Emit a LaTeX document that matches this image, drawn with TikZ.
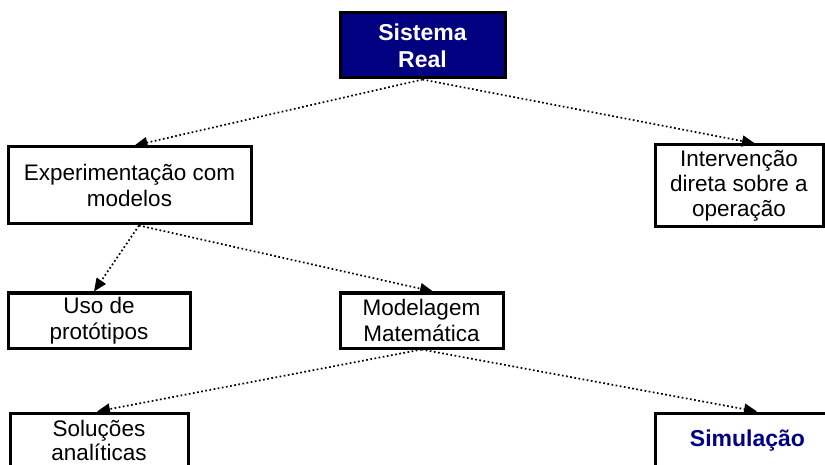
\documentclass[tikz,border=0pt]{standalone}
\usepackage{fontspec}
\setmainfont{Liberation Sans}
\usetikzlibrary{arrows.meta}
\definecolor{navyblue}{RGB}{0,0,128}
\tikzset{
  box/.style={draw=black, line width=3pt, fill=white, inner sep=0pt, align=center,
    font=\fontsize{22.5}{26}\selectfont},
  conn/.style={line width=1.7pt, dash pattern=on 1.7pt off 2.5pt,
    -{Triangle[length=13pt,width=11pt]}, shorten >=0pt}
}
\begin{document}
\begin{tikzpicture}[x=1pt,y=-1pt]
\useasboundingbox (0,0) rectangle (825,465);
\clip (0,0) rectangle (825,465);
\node[box, fill=navyblue, text=white, font=\fontsize{23}{27}\selectfont\bfseries,
      minimum width=165pt, minimum height=65pt] (sr) at (422.5,45.5) {Sistema\\Real};
\node[box, minimum width=243pt, minimum height=77pt] (exp) at (129.5,185.5) {Experimentação com\\modelos};
\node[box, font=\fontsize{22.5}{25}\selectfont, minimum width=168pt, minimum height=82pt] (int) at (739,186) {Intervenção\\direta sobre a\\operação};
\node[box, minimum width=182pt, minimum height=55pt] (uso) at (99,320.5) {Uso de\\protótipos};
\node[box, minimum width=163pt, minimum height=55pt] (mod) at (421.5,320.5) {Modelagem\\Matemática};
\node[box, font=\fontsize{22.5}{24}\selectfont, minimum width=178pt, minimum height=55pt] (sol) at (99,440.5) {Soluções\\analíticas};
\node[box, text=navyblue, font=\fontsize{23}{26}\selectfont\bfseries, minimum width=185pt, minimum height=55pt] (sim) at (747.5,440.5) {Simulação};
\draw[conn] (sr.south) -- ([xshift=5pt]exp.north);
\draw[conn] (sr.south) -- ([xshift=16pt]int.north);
\draw[conn] ([xshift=9.5pt]exp.south) -- ([xshift=-5pt]uso.north);
\draw[conn] ([xshift=9.5pt]exp.south) -- ([xshift=11.5pt]mod.north);
\draw[conn] (mod.south) -- ([xshift=-2pt]sol.north);
\draw[conn] (mod.south) -- ([xshift=9.5pt]sim.north);
\end{tikzpicture}
\end{document}
